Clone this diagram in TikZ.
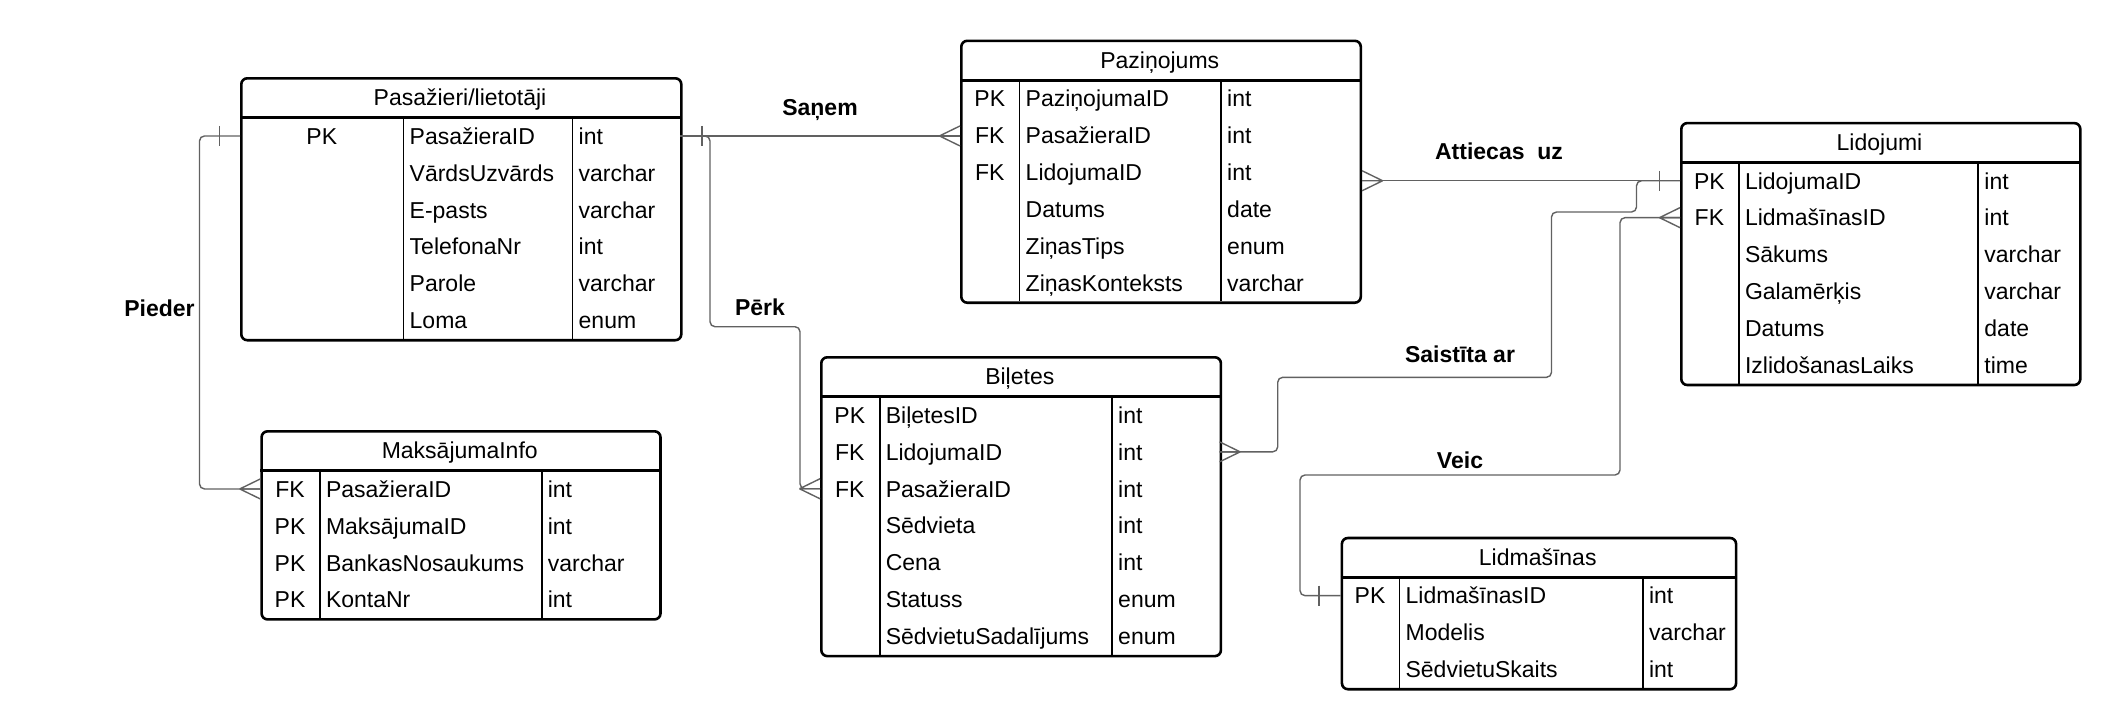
\documentclass[tikz,border=0pt]{standalone}
\usepackage{fontspec}
\setmainfont{Liberation Sans}
\tikzset{
  txt/.style={inner sep=0pt, font=\fontsize{23}{27}\selectfont, text height=16.5pt, text depth=0pt},
  lbl/.style={txt, font=\bfseries\fontsize{23}{27}\selectfont},
  tblbox/.style={draw=black, line width=2.6pt, rounded corners=6pt, inner sep=0pt},
  hdrline/.style={draw=black, line width=3pt},
  divline/.style={draw=black, line width=1.8pt},
  conn/.style={draw=black!62, line width=1.4pt, rounded corners=5pt},
  endmark/.style={draw=black!62, line width=1.4pt},
}
% #1 name, #2 xL, #3 xK, #4 xN, #5 xR, #6 ytop, #7 nrows, #8 title, #9 rows
\newcommand\ertable[9]{%
  \pgfmathsetmacro\tabw{#5-#2}%
  \pgfmathsetmacro\tabh{40.5+#7*36.9}%
  \pgfmathsetmacro\tabb{#6+\tabh}%
  \node[tblbox, minimum width=\tabw pt, minimum height=\tabh pt, anchor=north west] (#1) at (#2,#6) {};
  \draw[hdrline] (#2,#6+40.5) -- (#5,#6+40.5);
  \draw[divline] (#3,#6+40.5) -- (#3,\tabb);
  \draw[divline] (#4,#6+40.5) -- (#4,\tabb);
  \node[txt] (#1-title) at ({(#2+#5)/2},#6+20.25) {#8};
  \foreach \rk/\rn/\rt [count=\i] in {#9} {
    \pgfmathsetmacro\yc{#6+40.5+(\i-0.5)*36.9}
    \coordinate (#1-w\i) at (#2,\yc);
    \coordinate (#1-e\i) at (#5,\yc);
    \ifx\rk\empty\else
      \node[txt] (#1-k\i) at ({(#2+#3)/2},\yc) {\rk};
    \fi
    \node[txt, anchor=west] (#1-n\i) at (#3+6,\yc) {\rn};
    \node[txt, anchor=west] (#1-t\i) at (#4+6,\yc) {\rt};
  }
}
% crow's foot; #1 coordinate on entity edge, #2 = 1 entity on right, -1 entity on left
\newcommand\crowfoot[2]{%
  \draw[endmark, shift={(#1)}, xscale=#2] (-20.5,0) -- (0,-10) (-20.5,0) -- (0,0) (-20.5,0) -- (0,10);
}
% tick; #1 coordinate, #2 x offset
\newcommand\tickmark[2]{%
  \draw[endmark, shift={(#1)}] (#2,-10) -- (#2,10);
}
\begin{document}
\begin{tikzpicture}[x=1pt, y=-1pt]
\useasboundingbox[fill=white] (0,0) rectangle (2120,728);

\ertable{pas}{240}{403.5}{572.5}{680}{77}{6}{Pasažieri/lietotāji}{PK/PasažieraID/int, /VārdsUzvārds/varchar, /E-pasts/varchar, /TelefonaNr/int, /Parole/varchar, /Loma/enum}
\ertable{paz}{960}{1019.5}{1221}{1359.5}{39.5}{6}{Paziņojums}{PK/PaziņojumaID/int, FK/PasažieraID/int, FK/LidojumaID/int, /Datums/date, /ZiņasTips/enum, /ZiņasKonteksts/varchar}
\ertable{lid}{1680}{1738.8}{1978.2}{2079}{121.8}{6}{Lidojumi}{PK/LidojumaID/int, FK/LidmašīnasID/int, /Sākums/varchar, /Galamērķis/varchar, /Datums/date, /IzlidošanasLaiks/time}
\ertable{bil}{820}{879.6}{1112}{1219.6}{356}{7}{Biļetes}{PK/BiļetesID/int, FK/LidojumaID/int, FK/PasažieraID/int, /Sēdvieta/int, /Cena/int, /Statuss/enum, /SēdvietuSadalījums/enum}
\ertable{mak}{260.3}{319.8}{541.6}{659.2}{430}{4}{MaksājumaInfo}{FK/PasažieraID/int, PK/MaksājumaID/int, PK/BankasNosaukums/varchar, PK/KontaNr/int}
\ertable{lmd}{1340.6}{1399.4}{1642.8}{1734.8}{536.7}{3}{Lidmašīnas}{PK/LidmašīnasID/int, /Modelis/varchar, /SēdvietuSkaits/int}

% Saņem
\coordinate (sanemEnd) at (pas-e1 -| paz.west);
\draw[conn] (pas-e1) -- (sanemEnd);
\tickmark{pas-e1}{22}
\crowfoot{sanemEnd}{1}
% Pērk
\draw[conn] (pas-e1) -| (710,326.7) -| (800,420) |- (bil-w3);
\crowfoot{bil-w3}{1}
% Pieder
\draw[conn] (pas-w1) -| (199.5,300) |- (mak-w1);
\tickmark{pas-w1}{-20.5}
\crowfoot{mak-w1}{1}
% Attiecas uz
\coordinate (attStart) at (lid-w1 -| paz.east);
\draw[conn] (attStart) -- (lid-w1);
\crowfoot{attStart}{-1}
\tickmark{lid-w1}{-20.5}
% Saistīta ar
\draw[conn] (bil-e2) -| (1277.7,377.3) -| (1551.5,212) -| (1636.5,200) |- (lid-w1);
\crowfoot{bil-e2}{-1}
% Veic
\draw[conn] (lmd-w1) -| (1300,475) -| (1620,300) |- (lid-w2);
\tickmark{lmd-w1}{-21.6}
\crowfoot{lid-w2}{1}

% labels
\node[lbl] (lSanem) at (820,107) {Saņem};
\node[lbl] (lPerk) at (760,307) {Pērk};
\node[lbl] (lPieder) at (159.5,308) {Pieder};
\node[lbl] (lAtt) at (1499,151) {Attiecas\ \ uz};
\node[lbl] (lSaist) at (1460,354) {Saistīta ar};
\node[lbl] (lVeic) at (1460,460) {Veic};
\end{tikzpicture}
\end{document}
